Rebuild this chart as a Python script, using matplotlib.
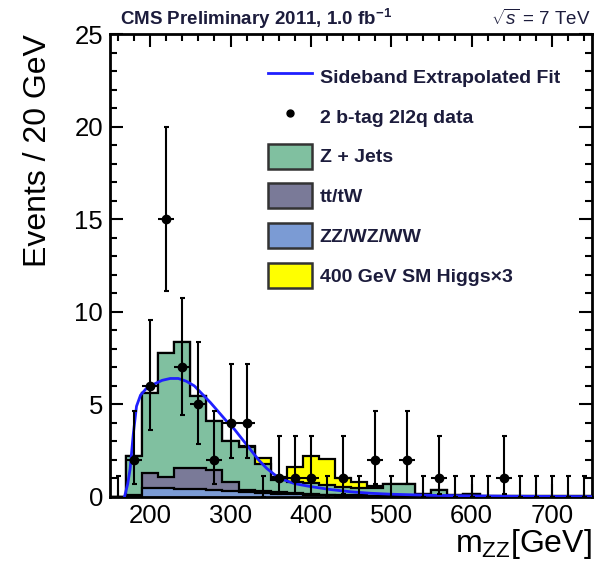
import numpy as np
import matplotlib
matplotlib.use('Agg')
import matplotlib.pyplot as plt
from matplotlib.patches import Patch
from matplotlib.lines import Line2D
from matplotlib.ticker import MultipleLocator

plt.rcParams['font.family'] = ['Liberation Sans', 'DejaVu Sans']
plt.rcParams['mathtext.fontset'] = 'custom'
plt.rcParams['mathtext.rm'] = 'Liberation Sans'
plt.rcParams['mathtext.it'] = 'Liberation Sans:italic'
plt.rcParams['mathtext.bf'] = 'Liberation Sans:bold'

# ---------------- data ----------------
bin_low, bin_high, bin_width = 150, 750, 20
mass_centers = [160, 180, 200, 220, 240, 260, 280, 300, 320, 340,
                360, 380, 400, 420, 440, 460, 480, 500, 520, 540,
                560, 580, 600, 620, 640, 660, 680, 700, 720, 740]

data_counts = [0, 2, 6, 15, 7, 5, 2, 4, 4, 0,
               1, 1, 1, 0, 1, 0, 2, 0, 2, 0,
               1, 0, 0, 0, 1, 0, 0, 0, 0, 0]
data_err_low = [0.0, 1.29, 2.38, 3.87, 2.58, 2.16, 1.29, 1.91, 1.91, 0.0,
                0.83, 0.83, 0.83, 0.0, 0.83, 0.0, 1.29, 0.0, 1.29, 0.0,
                0.83, 0.0, 0.0, 0.0, 0.83, 0.0, 0.0, 0.0, 0.0, 0.0]
data_err_high = [1.15, 2.64, 3.58, 4.96, 3.77, 3.38, 2.64, 3.16, 3.16, 1.15,
                 2.30, 2.30, 2.30, 1.15, 2.30, 1.15, 2.64, 1.15, 2.64, 1.15,
                 2.30, 1.15, 1.15, 1.15, 2.30, 1.15, 1.15, 1.15, 1.15, 1.15]

zz_wz_ww = [0.0, 0.05, 0.50, 0.50, 0.45, 0.42, 0.40, 0.33, 0.28, 0.22,
            0.18, 0.15, 0.12, 0.10, 0.08, 0.07, 0.06, 0.05, 0.04, 0.03,
            0.03, 0.02, 0.02, 0.02, 0.02, 0.01, 0.01, 0.01, 0.01, 0.01]
tt_tw = [0.0, 0.05, 0.78, 0.60, 1.10, 1.13, 1.05, 0.47, 0.12, 0.13,
         0.08, 0.05, 0.04, 0.03, 0.02, 0.02, 0.02, 0.01, 0.01, 0.01,
         0.01, 0.01, 0.0, 0.0, 0.0, 0.0, 0.0, 0.0, 0.0, 0.0]
z_jets = [0.0, 2.10, 4.32, 6.65, 6.80, 3.90, 2.65, 2.25, 2.30, 1.45,
          0.64, 0.60, 0.59, 0.52, 0.45, 0.41, 0.42, 0.64, 0.65, 0.11,
          0.34, 0.07, 0.15, 0.03, 0.03, 0.02, 0.02, 0.02, 0.02, 0.02]
higgs_x3 = [0.0, 0.0, 0.0, 0.0, 0.0, 0.0, 0.0, 0.0, 0.03, 0.32,
            0.20, 0.80, 1.45, 1.40, 0.45, 0.30, 0.10, 0.02, 0.01, 0.0,
            0.0, 0.0, 0.0, 0.0, 0.0, 0.0, 0.0, 0.0, 0.0, 0.0]

fit_mass = [168, 172, 175, 179, 183, 188, 195, 205, 215, 225, 235, 245, 255,
            265, 275, 285, 295, 305, 315, 325, 335, 345, 355, 365, 380, 400,
            425, 450, 475, 500, 550, 600, 650, 700, 750]
fit_events = [0.0, 0.7, 1.5, 3.4, 4.9, 5.5, 5.85, 6.1, 6.3, 6.4, 6.4, 6.25, 6.0,
              5.55, 5.1, 4.6, 4.1, 3.65, 3.1, 2.55, 2.0, 1.55, 1.2, 0.95, 0.72, 0.56,
              0.4, 0.28, 0.2, 0.15, 0.09, 0.06, 0.04, 0.03, 0.02]

# ---------------- figure ----------------
fig = plt.figure(figsize=(6.09, 5.61), dpi=100)
ax = fig.add_axes([110 / 609, 1 - 497 / 561, 482 / 609, 463 / 561])

edges = np.arange(bin_low, bin_high + 1, bin_width)
c_blue = np.array(zz_wz_ww)
c_purple = c_blue + np.array(tt_tw)
c_green = c_purple + np.array(z_jets)
c_yellow = c_green + np.array(higgs_x3)

col_yellow = '#ffff00'
col_green = '#80c0a0'
col_purple = '#7a7a98'
col_blue = '#7b9bd4'

for vals, col in [(c_yellow, col_yellow), (c_green, col_green),
                  (c_purple, col_purple), (c_blue, col_blue)]:
    ax.stairs(vals, edges, fill=True, facecolor=col, edgecolor='black',
              linewidth=1.6, zorder=2)

ax.plot(fit_mass, fit_events, color='#1f1fff', linewidth=2.0, zorder=3)

x = np.array(mass_centers, dtype=float)
y = np.array(data_counts, dtype=float)
ax.errorbar(x, y, yerr=[data_err_low, data_err_high], fmt='none',
            ecolor='black', elinewidth=1.5, capsize=1.8, capthick=1.5, zorder=4)
nz = y > 0
ax.hlines(y[nz], x[nz] - bin_width / 2, x[nz] + bin_width / 2,
          color='black', linewidth=1.5, zorder=4)
ax.plot(x[nz], y[nz], 'o', color='black', markersize=6, zorder=5)

ax.set_xlim(bin_low, bin_high)
ax.set_ylim(0, 25)
ax.xaxis.set_major_locator(MultipleLocator(100))
ax.xaxis.set_minor_locator(MultipleLocator(20))
ax.yaxis.set_major_locator(MultipleLocator(5))
ax.yaxis.set_minor_locator(MultipleLocator(1))
ax.tick_params(which='both', direction='in', top=True, right=True, width=1.5,
               labelsize=18.5)
ax.tick_params(which='major', length=9.5)
ax.tick_params(which='minor', length=5)
ax.tick_params(axis='y', pad=5)
ax.tick_params(axis='x', pad=5)
for s in ax.spines.values():
    s.set_linewidth(2.0)

ax.set_ylabel('Events / 20 GeV', fontsize=23, loc='top', labelpad=15)
ax.set_xlabel(r'm$_{\mathrm{ZZ}}$[GeV]', fontsize=23, loc='right', labelpad=-1)

fig.text(120 / 609, 1 - 25 / 561, r'CMS Preliminary 2011, 1.0 fb$^{\mathbf{-1}}$',
         fontsize=13.5, fontweight='bold', color='#1c1c3c', ha='left', va='baseline')
fig.text(591 / 609, 1 - 25 / 561, r'$\sqrt{s}$ = 7 TeV', fontsize=13.5,
         color='#1c1c3c', ha='right', va='baseline')

handles = [
    Line2D([], [], color='#1f1fff', linewidth=2.0),
    Line2D([], [], color='black', marker='o', linestyle='none', markersize=5),
    Patch(facecolor=col_green, edgecolor='#333333', linewidth=1.8),
    Patch(facecolor=col_purple, edgecolor='#333333', linewidth=1.8),
    Patch(facecolor=col_blue, edgecolor='#333333', linewidth=1.8),
    Patch(facecolor=col_yellow, edgecolor='#333333', linewidth=1.8),
]
labels = ['Sideband Extrapolated Fit', '2 b-tag 2l2q data', 'Z + Jets',
          'tt/tW', 'ZZ/WZ/WW', '400 GeV SM Higgs×3']
leg = ax.legend(handles, labels, loc='upper left',
                bbox_to_anchor=((268 - 110) / 482, (497 - 64) / 463),
                frameon=False, prop={'weight': 'bold', 'size': 14},
                handlelength=2.25, handleheight=1.6, labelspacing=0.76,
                handletextpad=0.4, borderpad=0, borderaxespad=0)
for t in leg.get_texts():
    t.set_color('#1c1c3c')

fig.savefig('out.png', dpi=100)
